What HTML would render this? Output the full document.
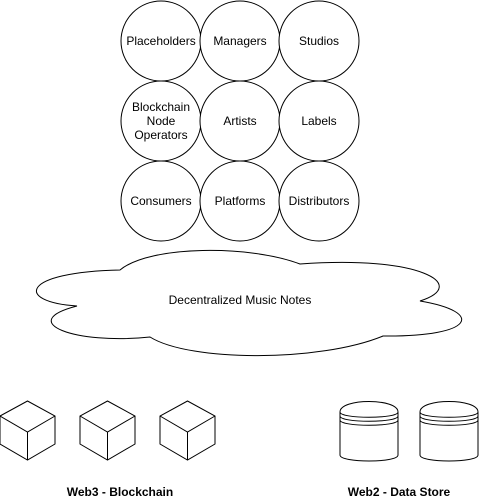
<!DOCTYPE html>
<html><head><style>body{margin:0;background:#fff}svg{display:block}text{font-family:"Liberation Sans",sans-serif;font-size:12px;fill:#000}</style></head><body>
<svg width="481" height="501" viewBox="0 0 481 501" xmlns="http://www.w3.org/2000/svg">
<g fill="#fff" stroke="#000" stroke-width="1">
<circle cx="161" cy="41" r="40"/><circle cx="240" cy="41" r="40"/><circle cx="319" cy="41" r="40"/>
<circle cx="161" cy="121" r="40"/><circle cx="240" cy="121" r="40"/><circle cx="319" cy="121" r="40"/>
<circle cx="161" cy="201" r="40"/><circle cx="240" cy="201" r="40"/><circle cx="319" cy="201" r="40"/>
</g>
<g text-anchor="middle">
<text x="161" y="45">Placeholders</text><text x="240" y="45">Managers</text><text x="319" y="45">Studios</text>
<text x="161" y="111">Blockchain</text><text x="161" y="125">Node</text><text x="161" y="139">Operators</text>
<text x="240" y="125">Artists</text><text x="319" y="125">Labels</text>
<text x="161" y="205">Consumers</text><text x="240" y="205">Platforms</text><text x="319" y="205">Distributors</text>
</g>
<path d="M120 270 C20 272 15 302 77 306 C15 322 75 345 150 337 C190 362 320 362 383 336 C475 337 485 312 420 301 C470 285 420 255 300 264 C250 245 150 245 120 270 Z" fill="#fff" stroke="#000"/>
<text x="240" y="304" text-anchor="middle">Decentralized Music Notes</text>
<g fill="none" stroke="#000">
<g id="c"><path d="M27.5 401 L55 416 L55 444 L27.5 460 L0 444 L0 416 Z M0 416 L27.5 432 L55 416 M27.5 432 L27.5 460"/></g>
<use href="#c" x="80"/><use href="#c" x="160"/>
<g id="d"><path d="M340 412 C340 398 398 398 398 412 L398 455 C398 463 340 463 340 455 Z M340 412 C340 419 398 419 398 412 M340 416 C340 423 398 423 398 416 M340 420 C340 427 398 427 398 420"/></g>
<use href="#d" x="80"/>
</g>
<text x="120" y="496" text-anchor="middle" font-weight="bold">Web3 - Blockchain</text>
<text x="399" y="496" text-anchor="middle" font-weight="bold">Web2 - Data Store</text>
</svg>
</body></html>
